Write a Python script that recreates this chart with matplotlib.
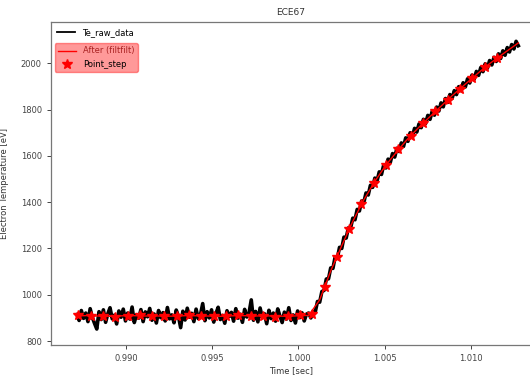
import matplotlib
matplotlib.use("Agg")
import matplotlib.pyplot as plt
import numpy as np

# raw Te trace (eV), evenly sampled between t_start and t_end
t_start, t_end = 0.98715, 1.01275
te_raw = [
    915, 889, 932, 898, 921, 884, 940, 902, 876, 852,
    927, 893, 935, 881, 918, 944, 896, 912, 874, 930,
    903, 938, 887, 921, 895, 947, 880, 914, 899, 936,
    884, 926, 905, 941, 890, 917, 878, 932, 901, 923,
    887, 945, 896, 913, 879, 934, 908, 858, 929, 891,
    942, 903, 920, 884, 938, 897, 915, 962, 888, 927,
    900, 935, 882, 919, 946, 893, 911, 877, 931, 906,
    924, 886, 940, 899, 916, 881, 937, 904, 922, 978,
    890, 928, 883, 943, 902, 918, 875, 933, 897, 921,
    886, 939, 908, 880, 925, 895, 944, 889, 913, 878,
    930, 901, 922, 887, 916,
    921, 900, 927, 926, 971, 968, 1014, 1019, 1068, 1069,
    1116, 1114, 1163, 1158, 1205, 1200, 1249, 1245, 1289, 1288,
    1331, 1324, 1369, 1362, 1405, 1399, 1440, 1431, 1473, 1464,
    1504, 1492, 1531, 1520, 1560, 1548, 1586, 1572, 1610, 1595,
    1633, 1619, 1656, 1641, 1678, 1663, 1700, 1684, 1719, 1703,
    1738, 1722, 1758, 1740, 1775, 1758, 1793, 1776, 1811, 1794,
    1829, 1812, 1848, 1831, 1865, 1848, 1882, 1865, 1899, 1882,
    1916, 1898, 1933, 1915, 1949, 1931, 1965, 1948, 1982, 1964,
    1998, 1979, 2012, 1993, 2026, 2008, 2041, 2021, 2054, 2035,
    2068, 2049, 2081, 2062, 2095, 2076,
]

# filtfilt output, evenly sampled over the same span
te_filt = [
    909, 910, 908, 907, 909, 910, 908, 909, 907, 908,
    910, 909, 908, 907, 909, 910, 908, 909, 908, 907,
    909, 911, 978, 1103, 1212, 1317, 1410, 1490, 1560, 1619,
    1675, 1724, 1770, 1815, 1860, 1902, 1943, 1984, 2020, 2054,
    2088,
]

# step points taken from the filtered signal
step_start, step_end = 0.98723, 1.01151
te_step = [
    912, 908, 910, 906, 909, 911, 907, 910, 908, 912,
    909, 907, 910, 911, 908, 909, 906, 910, 912, 916,
    1035, 1165, 1285, 1392, 1485, 1562, 1628, 1688, 1742, 1792,
    1843, 1890, 1936, 1982, 2022,
]

xticks = [0.990, 0.995, 1.000, 1.005, 1.010]
yticks = [800, 1000, 1200, 1400, 1600, 1800, 2000]

t_raw = np.linspace(t_start, t_end, len(te_raw))
t_filt = np.linspace(t_start, t_end, len(te_filt))
t_step = np.linspace(step_start, step_end, len(te_step))

fig = plt.figure(figsize=(5.3, 3.75), dpi=100)
ax = fig.add_axes([0.096, 0.08, 0.906, 0.861])

raw_line, = ax.plot(t_raw, te_raw, color="black", lw=2.6)
filt_line, = ax.plot(t_filt, te_filt, color="red", lw=1.0)
stars, = ax.plot(t_step, te_step, ls="none", marker="*", color="red",
                 markersize=7.5, markeredgecolor="red")

ax.set_xlim(0.98564, 1.01349)
ax.set_ylim(783, 2178)
ax.set_xticks(xticks)
ax.set_xticklabels(["%.3f" % v for v in xticks])
ax.set_yticks(yticks)
ax.tick_params(labelsize=6, colors="#444444", length=3, width=0.7)
for s in ax.spines.values():
    s.set_color("#777777")
    s.set_linewidth(0.9)

ax.set_title("ECE67", fontsize=6.5, color="#333333", pad=5)
ax.set_xlabel("Time [sec]", fontsize=6, color="#333333", labelpad=2)
ax.set_ylabel("Electron Temperature [eV]", fontsize=6, color="#333333")
ax.yaxis.set_label_coords(-0.088, 0.5)

raw_handle = plt.Line2D([], [], color="black", lw=1.3)
leg1 = ax.legend([raw_handle], ["Te_raw_data"], loc="upper left", fontsize=6,
                 frameon=False, borderaxespad=0.3, handlelength=2.2)
ax.add_artist(leg1)
leg2 = ax.legend([filt_line, stars], ["After (filtfilt)", "Point_step"],
                 loc="upper left", bbox_to_anchor=(0.008, 0.935),
                 borderaxespad=0, fontsize=6, numpoints=1, handlelength=2.2,
                 facecolor="red", edgecolor="red", framealpha=0.4)
leg2.get_texts()[0].set_color("#aa2222")

fig.savefig("out.png", dpi=100)
